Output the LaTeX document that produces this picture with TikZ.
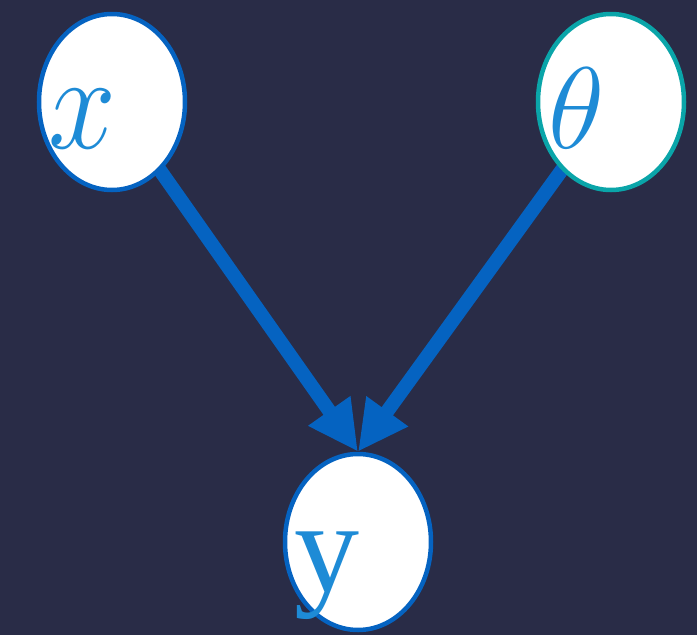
\RequirePackage{fix-cm}
\documentclass[tikz,border=0pt]{standalone}
\usepackage{graphicx}
\usepackage{fontspec}
\newfontfamily\yfont{Liberation Serif}
\usetikzlibrary{arrows.meta,shapes.geometric}
\definecolor{bg}{HTML}{292C47}
\definecolor{edgeblue}{HTML}{0563C1}
\definecolor{tealb}{HTML}{0AA5A9}
\definecolor{txtblue}{HTML}{1E8BD6}
\pgfdeclarelayer{bgl}
\pgfdeclarelayer{edges}
\pgfsetlayers{bgl,edges,main}
\tikzset{
  var/.style={ellipse, draw=edgeblue, fill=white, line width=4.5pt, minimum width=146pt, minimum height=176pt, inner sep=0pt},
  lab/.style={text=txtblue, anchor=base, inner sep=0pt},
  conn/.style={draw=edgeblue, line width=14pt, shorten <=-12pt, -{Triangle[length=50pt,width=48pt]}}
}
\begin{document}
\begin{tikzpicture}[x=1pt,y=-1pt]
\begin{pgfonlayer}{bgl}
\fill[bg] (0,0) rectangle (697,635);
\end{pgfonlayer}
\useasboundingbox (0,0) rectangle (697,635);
\node[var] (xn) at (112,102) {};
\node[var, draw=tealb] (tn) at (611,102) {};
\node[var] (yn) at (358,542) {};
\begin{pgfonlayer}{edges}
\draw[conn] (xn) -- (yn.north);
\draw[conn] (tn) -- (yn.north);
\end{pgfonlayer}
\node[lab, font=\fontsize{122}{122}\selectfont] (xl) at (82,148) {\scalebox{1}[1.12]{$x$}};
\node[lab, font=\fontsize{116}{116}\selectfont] (tl) at (577,148) {$\theta$};
\node[lab, font=\fontsize{130}{130}\selectfont\yfont] (yl) at (327,591) {y};
\end{tikzpicture}
\end{document}
